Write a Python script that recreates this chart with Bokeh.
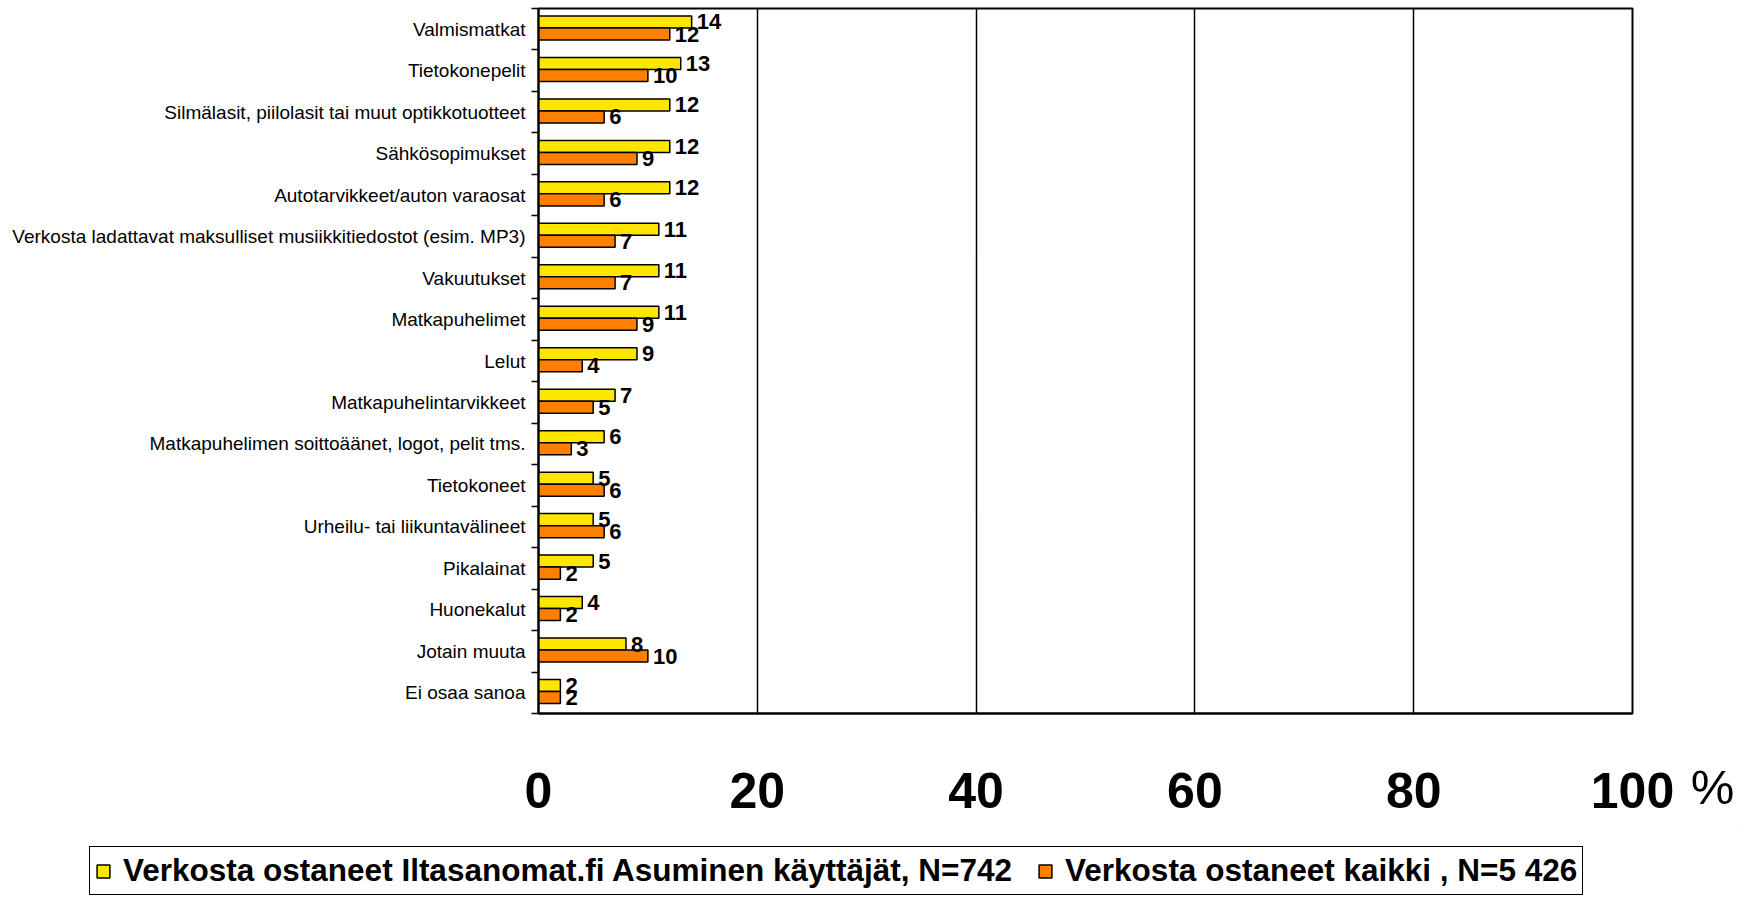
from bokeh.plotting import figure
from bokeh.layouts import column, row
from bokeh.models import Range1d, FixedTicker, Legend, LegendItem, ColumnDataSource
from bokeh.embed import file_html
from bokeh.resources import INLINE
from bokeh.core.properties import value

categories = [
    "Valmismatkat",
    "Tietokonepelit",
    "Silmälasit, piilolasit tai muut optikkotuotteet",
    "Sähkösopimukset",
    "Autotarvikkeet/auton varaosat",
    "Verkosta ladattavat maksulliset musiikkitiedostot (esim. MP3)",
    "Vakuutukset",
    "Matkapuhelimet",
    "Lelut",
    "Matkapuhelintarvikkeet",
    "Matkapuhelimen soittoäänet, logot, pelit tms.",
    "Tietokoneet",
    "Urheilu- tai liikuntavälineet",
    "Pikalainat",
    "Huonekalut",
    "Jotain muuta",
    "Ei osaa sanoa",
]
iltasanomat = [14, 13, 12, 12, 12, 11, 11, 11, 9, 7, 6, 5, 5, 5, 4, 8, 2]
kaikki = [12, 10, 6, 9, 6, 7, 7, 9, 4, 5, 3, 6, 6, 2, 2, 10, 2]
series_names = [
    "Verkosta ostaneet Iltasanomat.fi Asuminen käyttäjät, N=742",
    "Verkosta ostaneet kaikki , N=5 426",
]
x_ticks = [0, 20, 40, 60, 80, 100]
unit_label = "%"

YELLOW = "#FFE600"
ORANGE = "#FF8000"
FONT = "Liberation Sans"

n = len(categories)
idx = list(range(n))
y_yel = [i + 0.325 for i in idx]
y_ora = [i + 0.615 for i in idx]

src = ColumnDataSource(dict(
    y_yel=y_yel, y_ora=y_ora, yel=iltasanomat, ora=kaikki,
    yel_t=[str(v) for v in iltasanomat], ora_t=[str(v) for v in kaikki],
))

TOTAL_W, TOTAL_H = 1740, 896

# ---------------- main chart ----------------
P_W, P_H = 1690, 830
p = figure(width=P_W, height=P_H, output_backend="svg", toolbar_location=None,
           x_range=Range1d(0, 100), y_range=Range1d(n, 0),
           min_border_left=538, min_border_right=58, min_border_top=8,
           min_border_bottom=117)
p.background_fill_color = "white"
p.border_fill_color = "white"
p.outline_line_color = "black"
p.outline_line_width = 2

p.ygrid.grid_line_color = None
p.xgrid.grid_line_color = "black"
p.xgrid.grid_line_width = 1.5
p.xgrid.ticker = FixedTicker(ticks=x_ticks)

xa = p.xaxis[0]
xa.ticker = FixedTicker(ticks=x_ticks)
xa.axis_line_color = "black"
xa.axis_line_width = 2
xa.major_tick_out = 0
xa.major_tick_in = 0
xa.minor_tick_out = 0
xa.minor_tick_in = 0
xa.major_label_text_font = FONT
xa.major_label_text_font_style = "bold"
xa.major_label_text_font_size = "50px"
xa.major_label_text_color = "black"
xa.major_label_standoff = 59

ya = p.yaxis[0]
ya.ticker = FixedTicker(ticks=[i + 0.5 for i in idx], minor_ticks=list(range(n + 1)))
ya.major_label_overrides = {i + 0.5: c for i, c in enumerate(categories)}
ya.axis_line_color = "black"
ya.axis_line_width = 2
ya.major_tick_out = 0
ya.major_tick_in = 0
ya.minor_tick_out = 7
ya.minor_tick_in = 0
ya.minor_tick_line_color = "black"
ya.minor_tick_line_width = 1.5
ya.major_label_text_font = FONT
ya.major_label_text_font_size = "19px"
ya.major_label_text_color = "black"
ya.major_label_standoff = 6

p.hbar(y="y_yel", right="yel", left=0, height=0.29, source=src,
       fill_color=YELLOW, line_color="black", line_width=1.5)
p.hbar(y="y_ora", right="ora", left=0, height=0.29, source=src,
       fill_color=ORANGE, line_color="black", line_width=1.5)

for ycol, xcol, tcol in (("y_yel", "yel", "yel_t"), ("y_ora", "ora", "ora_t")):
    p.text(x=xcol, y=ycol, text=tcol, source=src, x_offset=5,
           text_align="left", text_baseline="middle",
           text_font=value(FONT), text_font_style="bold",
           text_font_size="22px", text_color="black")

# ---------------- unit label "%" (an axis of a narrow side plot) ----------------
U_W = TOTAL_W - P_W
u = figure(width=U_W, height=P_H, output_backend="svg", toolbar_location=None,
           x_range=Range1d(0, U_W), y_range=Range1d(0, 1),
           min_border_left=0, min_border_right=0,
           min_border_top=8, min_border_bottom=117)
u.yaxis.visible = False
u.grid.grid_line_color = None
u.outline_line_color = None
u.background_fill_color = "white"
u.border_fill_color = "white"
ua = u.xaxis[0]
ua.ticker = FixedTicker(ticks=[22], minor_ticks=[])
ua.major_label_overrides = {22: unit_label}
ua.axis_line_color = None
ua.major_tick_line_color = None
ua.minor_tick_line_color = None
ua.major_tick_out = 0
ua.major_tick_in = 0
ua.major_label_text_font = FONT
ua.major_label_text_font_size = "49px"
ua.major_label_text_color = "black"
ua.major_label_standoff = 46

# ---------------- legend strip ----------------
L_H = TOTAL_H - P_H
lg = figure(width=TOTAL_W, height=L_H, output_backend="svg", toolbar_location=None,
            x_range=Range1d(0, 1), y_range=Range1d(0, 1),
            min_border_left=0, min_border_right=0,
            min_border_top=0, min_border_bottom=0)
lg.axis.visible = False
lg.grid.grid_line_color = None
lg.outline_line_color = None
lg.background_fill_color = "white"
lg.border_fill_color = "white"
# proxy renderers, placed far outside the visible range, that only provide legend swatches
proxy = ColumnDataSource(dict(y=[50], left=[50], right=[60]))
d1 = lg.hbar(y="y", right="right", left="left", height=0.5, source=proxy,
             fill_color=YELLOW, line_color="black", line_width=1.5)
d2 = lg.hbar(y="y", right="right", left="left", height=0.5, source=proxy,
             fill_color=ORANGE, line_color="black", line_width=1.5)

legend = Legend(items=[LegendItem(label=series_names[0], renderers=[d1]),
                       LegendItem(label=series_names[1], renderers=[d2])],
                orientation="horizontal", location=(89, 1))
legend.label_text_font = FONT
legend.label_text_font_style = "bold"
legend.label_text_font_size = "31.5px"
legend.label_text_line_height = 0.9
legend.label_text_color = "black"
legend.glyph_width = 16
legend.glyph_height = 16
legend.label_standoff = 12
legend.spacing = 25
legend.padding = 5
legend.margin = 0
legend.border_line_color = "black"
legend.border_line_alpha = 1
legend.border_line_width = 1.5
legend.background_fill_color = "white"
legend.background_fill_alpha = 1
lg.add_layout(legend, "center")

layout = column(row(p, u), lg)
open("out.html", "w").write(file_html(layout, INLINE))
